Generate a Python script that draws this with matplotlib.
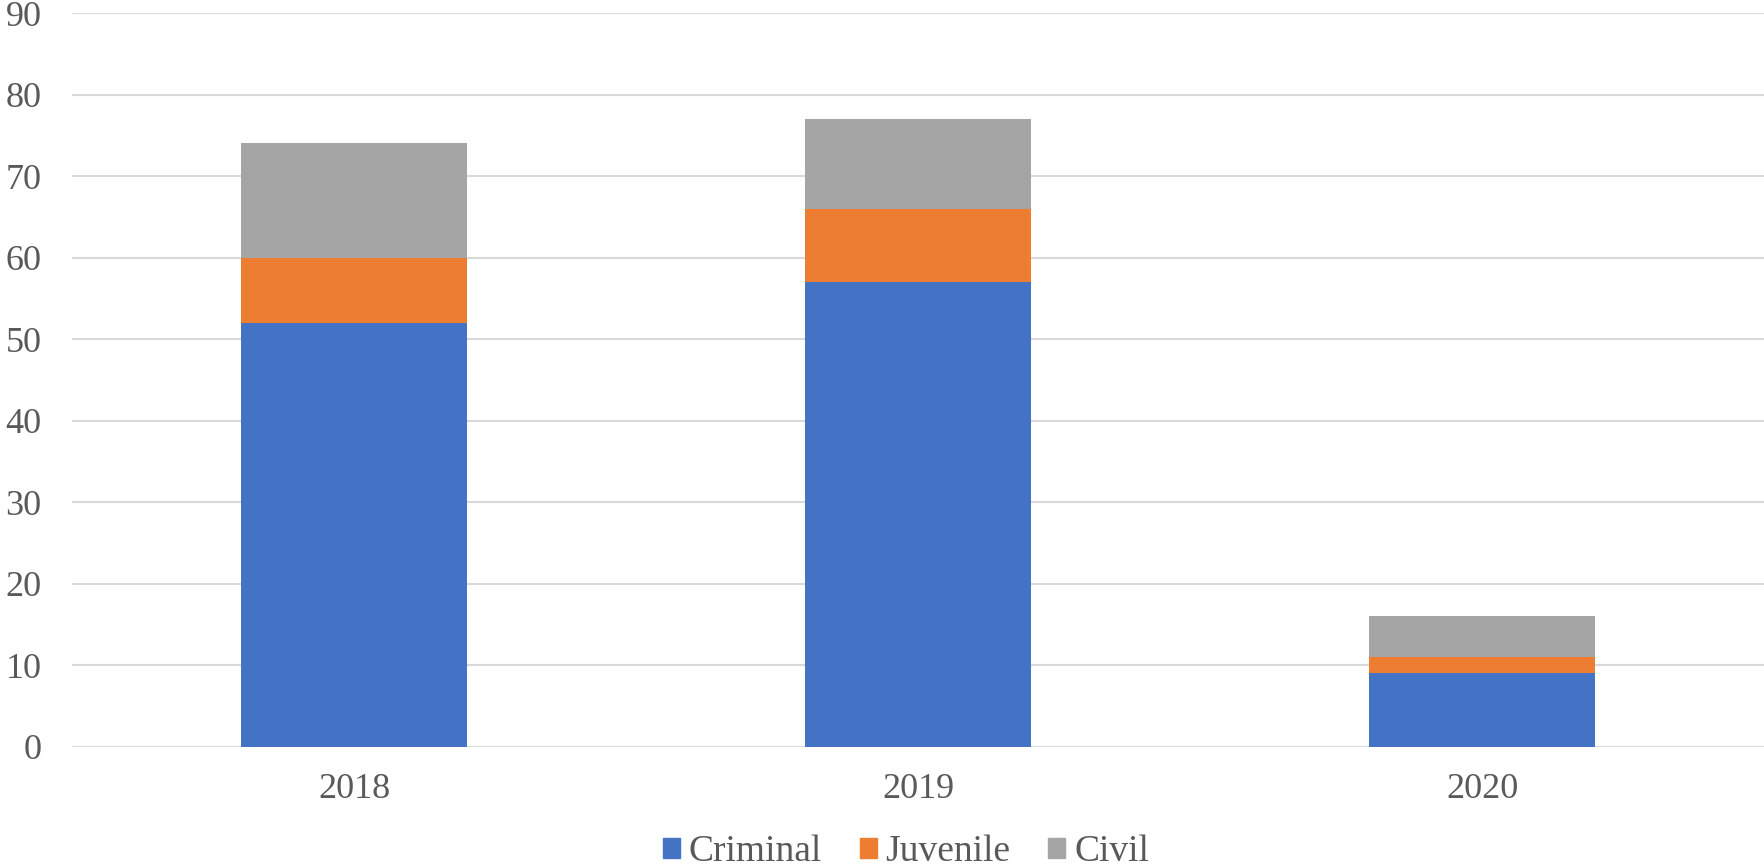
import numpy as np
import matplotlib.pyplot as plt
from matplotlib.patches import Patch

years = ['2018', '2019', '2020']
criminal = [52, 57, 9]
juvenile = [8, 9, 2]
civil = [14, 11, 5]

series = [('Criminal', criminal, '#4472C4'),
          ('Juvenile', juvenile, '#ED7D31'),
          ('Civil', civil, '#A5A5A5')]

plt.rcParams['font.family'] = ['Liberation Serif', 'DejaVu Serif']
txt = '#595959'

fig = plt.figure(figsize=(17.64, 8.66), dpi=100)
ax = fig.add_axes([72/1764, 1-746.7/866, 1-72/1764, (746.7-13)/866])

x = np.arange(len(years))
bottom = np.zeros(len(years))
for name, vals, col in series:
    ax.bar(x, vals, width=0.4, bottom=bottom, color=col, zorder=3)
    bottom += np.array(vals)

ax.set_xlim(-0.5, 2.5)
ax.set_ylim(0, 90)
ax.set_yticks(range(0, 91, 10))
ax.set_xticks(x)
ax.set_xticklabels(years)
ax.grid(axis='y', color='#D9D9D9', linewidth=1.5, zorder=0)
for s in ax.spines.values():
    s.set_visible(False)
ax.tick_params(length=0, labelsize=26, colors=txt)
ax.tick_params(axis='y', pad=22)
ax.tick_params(axis='x', pad=19)

handles = [Patch(color=c, label=n) for n, _, c in series]
fig.legend(handles=handles, loc='center', bbox_to_anchor=(906/1764, 1-852/866),
           ncol=3, frameon=False, fontsize=27, labelcolor=txt,
           handlelength=0.45, handleheight=0.45, handletextpad=0.24,
           columnspacing=1.0, borderpad=0, borderaxespad=0)

fig.savefig('out.png', dpi=100)
